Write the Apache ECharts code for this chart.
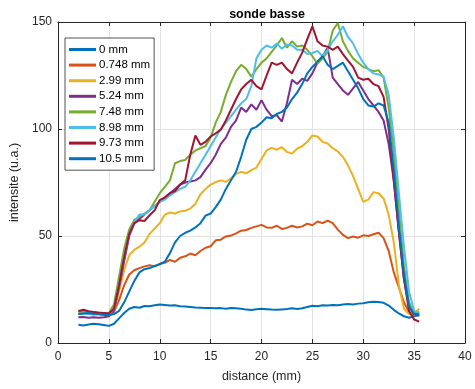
<!DOCTYPE html>
<html><head><meta charset="utf-8">
<script src="https://cdn.jsdelivr.net/npm/echarts@6/dist/echarts.min.js"></script>
<style>html,body{margin:0;padding:0;background:#fff}#c{width:475px;height:389px}</style>
</head><body><div id="c"></div>
<script>
const distance = [2,2.5,3,3.5,4,4.5,5,5.5,6,6.5,7,7.5,8,8.5,9,9.5,10,10.5,11,11.5,12,12.5,13,13.5,14,14.5,15,15.5,16,16.5,17,17.5,18,18.5,19,19.5,20,20.5,21,21.5,22,22.5,23,23.5,24,24.5,25,25.5,26,26.5,27,27.5,28,28.5,29,29.5,30,30.5,31,31.5,32,32.5,33,33.5,34,34.5,35,35.5];
const seriesNames = ['0 mm','0.748 mm','2.99 mm','5.24 mm','7.48 mm','8.98 mm','9.73 mm','10.5 mm'];
const s_0 = [8.5,8.2,8.6,9,8.8,8.4,8,9,11.5,14,16,16.8,16.5,17.3,17.2,17.6,18,17.8,17.5,17.6,17.2,17,16.8,16.6,16.5,16.4,16.3,16.2,16.3,16,16.4,16.2,16,15.6,15.4,15.8,16,15.8,15.6,15.5,15.7,15.9,16.2,15.9,16.2,16.8,17.4,17.2,17.6,17.5,17.8,17.6,18,18.2,18,18.4,18.6,19,19.3,19.2,18.8,17.5,15.5,13.8,12.5,11.8,12.5,13];
const s_0748 = [13.5,14,13.8,13.5,13.6,13.2,13,14.5,20,27,32,34,35,35.8,36.3,35.8,37,37.5,38.8,38,39.8,40.5,41.8,41,43,44.5,45.2,48,48.3,49.8,50.2,51.2,52.5,52.8,53.8,54.5,55.2,54,53.8,54.8,53.3,53.8,54.8,54,54.5,55.8,55,56.8,56,57.2,56,53,50.5,49,49.8,49.2,50.3,50,50.8,51.5,49,43,33,26,19,14.5,13,13];
const s_299 = [13.5,14.5,14,13.5,13.8,13.4,13,15,24,34,41,43.5,45,47,51,53.5,56,60,61,60.5,61.5,61.8,62.8,65,69.5,72,74,75.2,76,75.3,77,79,80,79.3,80.8,82,86,90,91.2,90.3,91.5,89.3,88.5,90.8,92,94,97,96.5,94,93.2,91,89.5,87,83,78,72,66,67,70.5,70,67.5,60,47,27,16,13.5,14,16];
const s_524 = [12,12.2,11.8,12,11.8,12,12.5,15,26,38,50,56,58,60,62,64,66,68,70,72,74,75,75.5,76,77.5,81,84,88,93,96,101,104,110,108,111.5,109,113.5,109,106,106.5,103.5,112,123,121,123.5,122.5,126,131,134,138,124,121,118,116,119,122,118,114,111,108,104,93,76,52,30,17,13.5,13];
const s_748 = [14.5,14.8,14.3,14,13.8,13.8,14,18,31,44,53,57.5,59,60.5,62,66,70,73,76,84,85,85.5,88,90,91,92,96,103,108,116,122,127,130,128,124.5,128,131,133,136,139,142.5,138,141,138.5,139,137,134,130.5,133,136,146,149.5,141,136.5,133,131,129,128,127,127.5,124,110,89,62,36,19,14,14.5];
const s_898 = [13.5,13.8,13.6,13.2,13.4,13,13.2,16,27,40,51,56.5,60,60,62,64,66,67,69,70.5,72,73,76,80,84,88,92,96,100,103,106,109,112,114,120,133,137,139,138,140,137.5,139.5,139,137,137,135,135.5,136.5,134,137,141,144,148,143,140,135,131,128,126,125.5,124.5,116,96,70,45,24,15,14];
const s_973 = [15,15.5,14.8,14.5,14.2,14,13.8,16,27,40,51,56,57.4,57,59.7,62,66.8,68,70,71,74,76,88,97,92.6,94,96.5,98,99.7,104,109,114,118.5,121,123,120,118.5,125,131,130,131,128,126,131,135.7,142,148,141,139,138.5,137,138.5,135,132,129,124,123,123.5,121,120,115,100,76,52,30,15,11,10];
const s_105 = [13.5,13.8,14,13.7,13.5,13.2,13,13.5,15,19,24,29,33,34.5,35,36,36.8,38,42,47,50,51.5,52.5,54,56,59.5,60.5,63.5,67,72,76,80,87,95,100,101,103,105.5,105,107,108,110,114,117,121,126,129,131.5,134,130,128,129.5,131,127,123,119,114,111,110.5,112,111,103,81,54,32,17,13.5,13.5];
const xTicks = [0,5,10,15,20,25,30,35,40];
const yTicks = [0,50,100,150];

const colors = ['#0072BD','#D95319','#EDB120','#7E2F8E','#77AC30','#4DBEEE','#A2142F','#0072BD'];
const allData = [s_0,s_0748,s_299,s_524,s_748,s_898,s_973,s_105];
const FONT = '"Liberation Sans", Arial, Helvetica, sans-serif';
const axisCol = '#262626';

const chart = echarts.init(document.getElementById('c'), null, {renderer:'canvas'});
const series = allData.map((arr,k)=>({
  name: seriesNames[k], type:'line', xAxisIndex:0, yAxisIndex:0,
  data: arr.map((v,i)=>[distance[i], v]),
  showSymbol:false, symbol:'none', smooth:false,
  lineStyle:{color:colors[k], width:2}, itemStyle:{color:colors[k]},
  emphasis:{disabled:true}, animation:false, z:2+k
}));

chart.setOption({
  animation:false,
  backgroundColor:'#fff',
  title:{text:'sonde basse', left:262, top:3, textAlign:'center',
    textStyle:{fontFamily:FONT, fontSize:12.5, fontWeight:'bold', color:'#000'}},
  legend:{
    show:true, orient:'vertical', left:65, top:38,
    data: seriesNames,
    icon:'rect', itemWidth:27, itemHeight:3, itemGap:2.6,
    backgroundColor:'#fff', borderColor:axisCol, borderWidth:0.8, padding:[5,4,5,4],
    textStyle:{fontFamily:FONT, fontSize:11.5, color:'#000', lineHeight:13, padding:[0,0,0,-2]},
    selectedMode:false
  },
  grid:{left:58, right:10, top:22, bottom:46, containLabel:false},
  xAxis:[{
    type:'value', min:0, max:40, interval:5, position:'bottom',
    name:'distance (mm)', nameLocation:'middle', nameGap:27,
    nameTextStyle:{fontFamily:FONT, fontSize:12.5, color:axisCol},
    axisLine:{show:true, onZero:false, lineStyle:{color:axisCol, width:1}},
    axisTick:{show:true, inside:true, length:4, lineStyle:{color:axisCol}},
    axisLabel:{fontFamily:FONT, fontSize:12, color:axisCol, margin:8,
      formatter:v=>xTicks.includes(v)?String(v):''},
    splitLine:{show:true, lineStyle:{color:'#e3e3e3', width:1}}
  },{
    type:'value', min:0, max:40, interval:5, position:'top',
    axisLine:{show:true, onZero:false, lineStyle:{color:axisCol, width:1}},
    axisTick:{show:true, inside:true, length:4, lineStyle:{color:axisCol}},
    axisLabel:{show:false}, splitLine:{show:false}
  }],
  yAxis:[{
    type:'value', min:0, max:150, interval:50, position:'left',
    name:'intensite (u.a.)', nameLocation:'middle', nameGap:28, nameRotate:90,
    nameTextStyle:{fontFamily:FONT, fontSize:12.5, color:axisCol},
    axisLine:{show:true, onZero:false, lineStyle:{color:axisCol, width:1}},
    axisTick:{show:true, inside:true, length:4, lineStyle:{color:axisCol}},
    axisLabel:{fontFamily:FONT, fontSize:12, color:axisCol, margin:6,
      formatter:v=>yTicks.includes(v)?String(v):''},
    splitLine:{show:true, lineStyle:{color:'#e3e3e3', width:1}}
  },{
    type:'value', min:0, max:150, interval:50, position:'right',
    axisLine:{show:true, onZero:false, lineStyle:{color:axisCol, width:1}},
    axisTick:{show:true, inside:true, length:4, lineStyle:{color:axisCol}},
    axisLabel:{show:false}, splitLine:{show:false}
  }],
  series: series
});
</script></body></html>
